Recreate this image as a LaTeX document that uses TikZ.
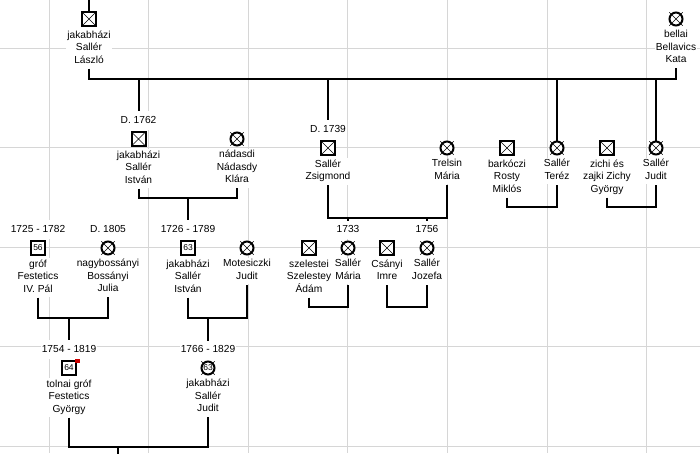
\documentclass[tikz,border=0pt]{standalone}
\usepackage{fontspec}
\setmainfont{Liberation Sans}
\usetikzlibrary{positioning}

\begin{document}
\begin{tikzpicture}[
  x=1pt, y=-1pt,
  node distance=2pt,
  gridline/.style={draw=black!16, line width=0.9pt},
  symbol/.style={draw, line width=2pt, inner sep=0pt, outer sep=1pt, fill=white, font=\fontsize{8.5}{9}\selectfont},
  male/.style={symbol, rectangle, minimum size=14pt},
  female/.style={symbol, circle, minimum size=13pt},
  crossed/.style={path picture={\draw[line width=0.5pt] (path picture bounding box.north west) -- (path picture bounding box.south east) (path picture bounding box.south west) -- (path picture bounding box.north east);}},
  tick/.style={line width=0.5pt},
  pname/.style={fill=white, align=center, inner xsep=1pt, inner ysep=1.5pt, font=\fontsize{10.2}{12.5}\selectfont},
  dlabel/.style={fill=white, inner xsep=1pt, inner ysep=3pt, font=\fontsize{10.2}{12.5}\selectfont},
  marker/.style={fill=red!80!black, inner sep=0pt, minimum size=5pt},
  link/.style={line width=2pt}
]
\fill[white] (0,0) rectangle (700,453);
\useasboundingbox (0,0) rectangle (700,453);
\foreach \gx in {49,148.6,248.2,347.8,447.4,547,646.6}
  \draw[gridline] (\gx,0) -- (\gx,453);
\foreach \gy in {48,147.6,247.2,346.8,446.4}
  \draw[gridline] (0,\gy) -- (700,\gy);

\node[male, crossed] (laszlo) at (89,19) {};
\node[pname, below=of laszlo] (laszlo-n) {jakabházi\\Sallér\\László\strut};
\node[female, crossed] (kata) at (676,19) {};
\node[pname, below=of kata] (kata-n) {bellai\\Bellavics\\Kata\strut};

\node[male, crossed] (istvanA) at (138.5,139) {};
\node[pname, below=of istvanA] (istvanA-n) {jakabházi\\Sallér\\István\strut};
\node[dlabel, above=1pt of istvanA] (istvanA-d) {D. 1762\strut};
\node[female, crossed] (klara) at (237,139) {};
\node[pname, below=of klara] (klara-n) {nádasdi\\Nádasdy\\Klára\strut};

\node[male, crossed] (zsigmond) at (328,148) {};
\node[pname, below=of zsigmond] (zsigmond-n) {Sallér\\Zsigmond\strut};
\node[dlabel, above=1pt of zsigmond] (zsigmond-d) {D. 1739\strut};
\node[female, crossed] (trelsin) at (447,148) {};
\node[pname, below=of trelsin] (trelsin-n) {Trelsin\\Mária\strut};

\node[male, crossed] (rosty) at (507,148) {};
\node[pname, below=of rosty] (rosty-n) {barkóczi\\Rosty\\Miklós\strut};
\node[female, crossed] (terez) at (557,148) {};
\node[pname, below=of terez] (terez-n) {Sallér\\Teréz\strut};
\node[male, crossed] (zichy) at (607,148) {};
\node[pname, below=of zichy] (zichy-n) {zichi és\\zajki Zichy\\György\strut};
\node[female, crossed] (juditA) at (656,148) {};
\node[pname, below=of juditA] (juditA-n) {Sallér\\Judit\strut};

\node[male] (pal) at (38,248) {56};
\node[pname, below=of pal] (pal-n) {gróf\\Festetics\\IV. Pál\strut};
\node[dlabel, above=1pt of pal] (pal-d) {1725 - 1782\strut};
\node[female, crossed] (julia) at (108,248) {};
\node[pname, below=of julia] (julia-n) {nagybossányi\\Bossányi\\Julia\strut};
\node[dlabel, above=1pt of julia] (julia-d) {D. 1805\strut};

\node[male] (istvanB) at (188,248) {63};
\node[pname, below=of istvanB] (istvanB-n) {jakabházi\\Sallér\\István\strut};
\node[dlabel, above=1pt of istvanB] (istvanB-d) {1726 - 1789\strut};
\node[female, crossed] (motesiczki) at (247,248) {};
\node[pname, below=of motesiczki] (motesiczki-n) {Motesiczki\\Judit\strut};

\node[male, crossed] (szelestey) at (309,248) {};
\node[pname, below=of szelestey] (szelestey-n) {szelestei\\Szelestey\\Ádám\strut};
\node[female, crossed] (maria) at (348,248) {};
\node[pname, below=of maria] (maria-n) {Sallér\\Mária\strut};
\node[dlabel, above=1pt of maria] (maria-d) {1733\strut};
\node[male, crossed] (csanyi) at (387,248) {};
\node[pname, below=of csanyi] (csanyi-n) {Csányi\\Imre\strut};
\node[female, crossed] (jozefa) at (427,248) {};
\node[pname, below=of jozefa] (jozefa-n) {Sallér\\Jozefa\strut};
\node[dlabel, above=1pt of jozefa] (jozefa-d) {1756\strut};

\node[male] (gyorgy) at (69,368) {64};
\node[marker] (gyorgy-m) at (gyorgy.north east) {};
\node[pname, below=of gyorgy] (gyorgy-n) {tolnai gróf\\Festetics\\György\strut};
\node[dlabel, above=1pt of gyorgy] (gyorgy-d) {1754 - 1819\strut};
\node[female] (juditB) at (208,368) {63};
\node[pname, below=of juditB] (juditB-n) {jakabházi\\Sallér\\Judit\strut};
\node[dlabel, above=1pt of juditB] (juditB-d) {1766 - 1829\strut};

\foreach \p in {kata,klara,trelsin,terez,juditA,julia,motesiczki,maria,jozefa,juditB}
  \foreach \a in {45,135,225,315}
    \draw[tick] ([shift={(\a:6)}]\p.center) -- ([shift={(\a:9.5)}]\p.center);

\coordinate (top0) at (89,0);
\coordinate (bar0) at (383,79);
\coordinate (bar1) at (188,198);
\coordinate (bar2) at (388,218);
\coordinate (bar3) at (532,207);
\coordinate (bar4) at (631,207);
\coordinate (bar5) at (69,318);
\coordinate (bar6) at (208,318);
\coordinate (bar7) at (329,307);
\coordinate (bar8) at (407,307);
\coordinate (bar9) at (118,447);
\coordinate (bot9) at (118,456);

\draw[link] (top0) -- (laszlo.north);
\draw[link] (laszlo-n.south) |- (bar0) -| (kata-n.south);
\draw[link] (bar0 -| istvanA) -- (istvanA-d.north);
\draw[link] (bar0 -| zsigmond) -- (zsigmond-d.north);
\draw[link] (bar0 -| terez) -- (terez.north);
\draw[link] (bar0 -| juditA) -- (juditA.north);

\draw[link] (istvanA-n.south) |- (bar1) -| (klara-n.south);
\draw[link] (bar1) -- (istvanB-d.north);
\draw[link] (zsigmond-n.south) |- (bar2) -| (trelsin-n.south);
\draw[link] (bar2 -| maria) -- (maria-d.north);
\draw[link] (bar2 -| jozefa) -- (jozefa-d.north);
\draw[link] (rosty-n.south) |- (bar3) -| (terez-n.south);
\draw[link] (zichy-n.south) |- (bar4) -| (juditA-n.south);

\draw[link] (pal-n.south) |- (bar5) -| (julia-n.south);
\draw[link] (bar5) -- (gyorgy-d.north);
\draw[link] (istvanB-n.south) |- (bar6) -| (motesiczki-n.south);
\draw[link] (bar6) -- (juditB-d.north);
\draw[link] (szelestey-n.south) |- (bar7) -| (maria-n.south);
\draw[link] (csanyi-n.south) |- (bar8) -| (jozefa-n.south);

\draw[link] (gyorgy-n.south) |- (bar9) -| (juditB-n.south);
\draw[link] (bar9) -- (bot9);
\end{tikzpicture}
\end{document}
